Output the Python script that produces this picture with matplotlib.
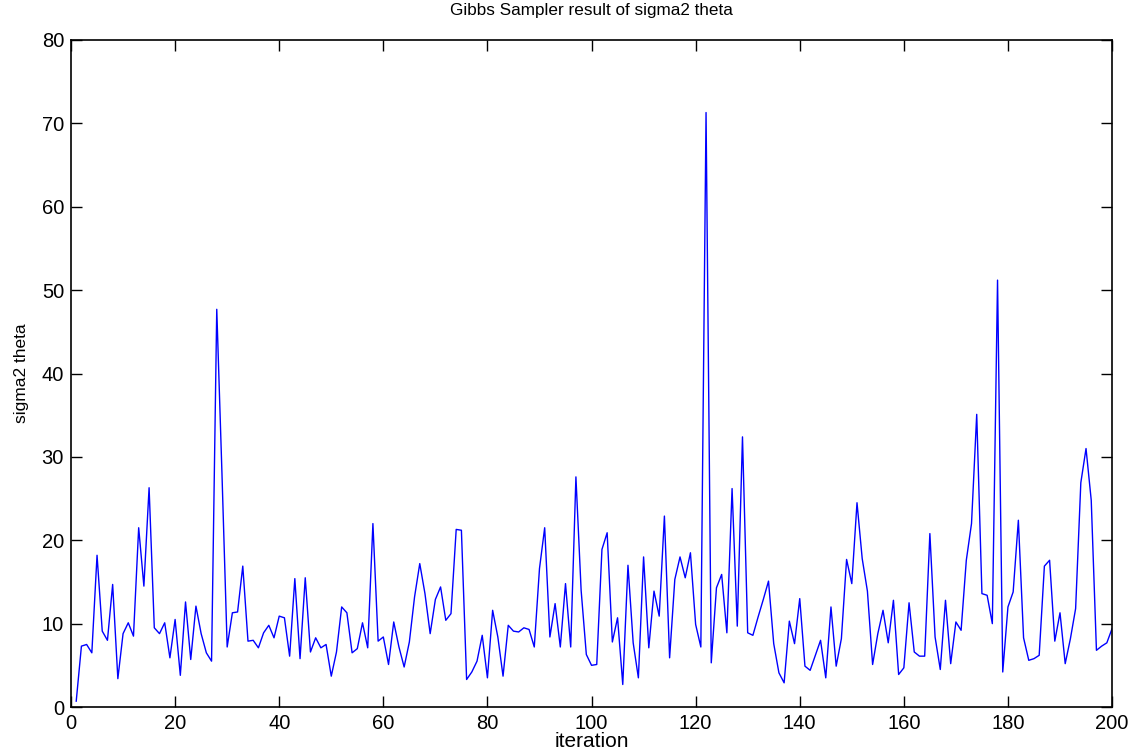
import numpy as np
import matplotlib.pyplot as plt

plt.rcParams['font.family'] = ['Liberation Sans', 'DejaVu Sans']

# sigma2 theta draws, iterations 1..200
sigma2_theta = [
    0.7, 7.3, 7.5, 6.5, 18.2, 9.1, 8.0, 14.7, 3.4, 8.8,
    10.1, 8.5, 21.5, 14.5, 26.3, 9.5, 8.8, 10.1, 5.9, 10.5,
    3.8, 12.6, 5.7, 12.1, 8.8, 6.5, 5.5, 47.7, 28.0, 7.2,
    11.3, 11.4, 16.9, 7.9, 8.0, 7.1, 8.9, 9.8, 8.3, 10.9,
    10.7, 6.1, 15.4, 5.8, 15.5, 6.6, 8.3, 7.1, 7.5, 3.7,
    6.6, 12.0, 11.3, 6.5, 7.0, 10.1, 7.1, 22.0, 7.9, 8.4,
    5.1, 10.2, 7.2, 4.8, 7.8, 13.2, 17.2, 13.6, 8.8, 12.9,
    14.4, 10.4, 11.2, 21.3, 21.2, 3.3, 4.2, 5.5, 8.6, 3.5,
    11.6, 8.4, 3.7, 9.8, 9.1, 9.0, 9.5, 9.3, 7.2, 16.6,
    21.5, 8.4, 12.4, 7.2, 14.8, 7.2, 27.6, 14.0, 6.3, 5.0,
    5.1, 18.9, 20.9, 7.8, 10.7, 2.7, 17.0, 7.7, 3.5, 18.0,
    7.1, 13.9, 10.9, 22.9, 5.9, 15.3, 18.0, 15.5, 18.5, 9.9,
    7.2, 71.3, 5.3, 14.3, 15.9, 8.9, 26.2, 9.7, 32.4, 8.9,
    8.6, 10.8, 12.9, 15.1, 7.6, 4.1, 2.9, 10.3, 7.6, 13.0,
    4.9, 4.4, 6.2, 8.0, 3.5, 12.0, 4.9, 8.2, 17.7, 14.8,
    24.5, 17.8, 13.9, 5.1, 8.8, 11.6, 7.7, 12.8, 3.9, 4.7,
    12.5, 6.6, 6.1, 6.1, 20.8, 8.4, 4.5, 12.8, 5.2, 10.2,
    9.2, 17.6, 22.0, 35.1, 13.6, 13.4, 10.0, 51.2, 4.2, 12.0,
    13.8, 22.4, 8.3, 5.6, 5.8, 6.2, 16.9, 17.6, 7.9, 11.3,
    5.2, 8.2, 11.8, 26.9, 31.0, 24.8, 6.8, 7.3, 7.7, 9.4,
]
iteration = np.arange(1, len(sigma2_theta) + 1)

fig = plt.figure(figsize=(11.38, 7.56), dpi=100)
ax = fig.add_axes([0.0624, 0.0648, 0.9148, 0.8823])
ax.plot(iteration, sigma2_theta, color='#0000ff', linewidth=1.0)

ax.set_xlim(0, 200)
ax.set_ylim(0, 80)
ax.set_xticks(np.arange(0, 201, 20))
ax.set_yticks(np.arange(0, 81, 10))
ax.tick_params(direction='in', length=8, width=1, top=True, right=True,
               labelsize=14.5, pad=5)
for s in ax.spines.values():
    s.set_linewidth(1.2)

ax.set_title('Gibbs Sampler result of sigma2 theta', fontsize=12.3, pad=18)
ax.set_xlabel('iteration', fontsize=15, labelpad=-1)
ax.set_ylabel('sigma2 theta', fontsize=12.5, labelpad=9)

fig.savefig('out.png', dpi=100)
